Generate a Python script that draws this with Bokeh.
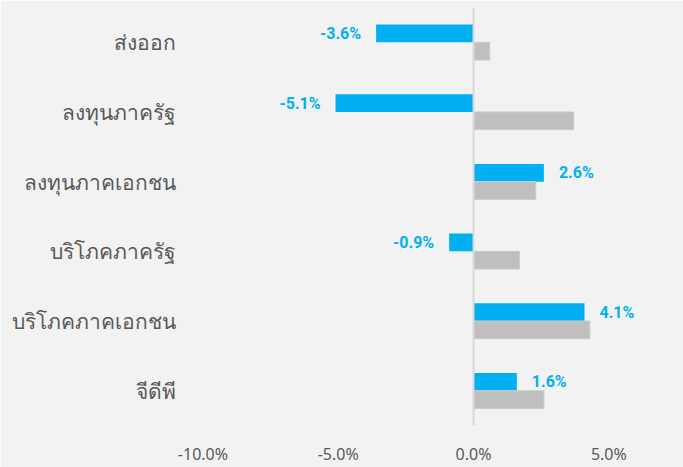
from bokeh.plotting import figure
from bokeh.models import (FactorRange, Range1d, ColumnDataSource, LabelSet, Span,
                          FixedTicker, PrintfTickFormatter)
from bokeh.core.properties import value
from bokeh.transform import dodge
from bokeh.embed import file_html
from bokeh.resources import INLINE

# data (top to bottom in the picture)
categories = ["ส่งออก", "ลงทุนภาครัฐ", "ลงทุนภาคเอกชน", "บริโภคภาครัฐ", "บริโภคภาคเอกชน", "จีดีพี"]
blue_values = [-3.6, -5.1, 2.6, -0.9, 4.1, 1.6]
gray_values = [0.6, 3.7, 2.3, 1.7, 4.3, 2.6]
x_ticks = [-10, -5, 0, 5]

FONT = "Noto Sans"
LFONT = "Roboto"
BG = "#f2f2f2"
BLUE = "#00b0f0"
GRAY = "#bfbfbf"
TXT = "#595959"

factors = list(reversed(categories))
src = ColumnDataSource(dict(
    cat=categories,
    blue=blue_values,
    gray=gray_values,
    label=[f"{v:.1f}%" for v in blue_values],
    align=["right" if v < 0 else "left" for v in blue_values],
    xoff=[-15 if v < 0 else 15 for v in blue_values],
))

p = figure(width=683, height=467, output_backend="svg", toolbar_location=None,
           y_range=FactorRange(*factors, range_padding=0),
           x_range=Range1d(-10.46, 7.76),
           min_border_left=190, min_border_right=0, min_border_top=7, min_border_bottom=35)
p.background_fill_color = BG
p.border_fill_color = BG
p.outline_line_color = None
p.grid.visible = False

p.hbar(y=dodge("cat", 0.127, range=p.y_range), right="blue", left=0, height=0.255,
       source=src, fill_color=BLUE, line_color=None)
p.hbar(y=dodge("cat", -0.127, range=p.y_range), right="gray", left=0, height=0.255,
       source=src, fill_color=GRAY, line_color="#cccccc", line_width=1)

p.add_layout(Span(location=0, dimension="height", line_color="#d9d9d9", line_width=2))

labels = LabelSet(x="blue", y=dodge("cat", 0.127, range=p.y_range), text="label",
                  source=src, x_offset="xoff", text_align="align", text_baseline="middle",
                  text_color=BLUE, text_font=value(LFONT), text_font_size="16px",
                  text_font_style="bold")
p.add_layout(labels)

p.xaxis.ticker = FixedTicker(ticks=x_ticks)
p.xaxis.formatter = PrintfTickFormatter(format="%.1f%%")
p.xaxis.axis_line_color = None
p.xaxis.major_tick_line_color = None
p.xaxis.minor_tick_line_color = None
p.xaxis.major_tick_out = 0
p.xaxis.major_tick_in = 0
p.xaxis.major_label_standoff = 17
p.xaxis.major_label_text_font = FONT
p.xaxis.major_label_text_font_size = "16px"
p.xaxis.major_label_text_color = TXT

p.yaxis.axis_line_color = None
p.yaxis.major_tick_line_color = None
p.yaxis.minor_tick_line_color = None
p.yaxis.major_tick_out = 0
p.yaxis.major_tick_in = 0
p.yaxis.major_label_standoff = 15
p.yaxis.major_label_text_font = FONT
p.yaxis.major_label_text_font_size = "21px"
p.yaxis.major_label_text_color = TXT

html = file_html(p, INLINE)
html = html.replace("<body>", '<body style="background:#f2f2f2;">', 1)
open("out.html", "w").write(html)
